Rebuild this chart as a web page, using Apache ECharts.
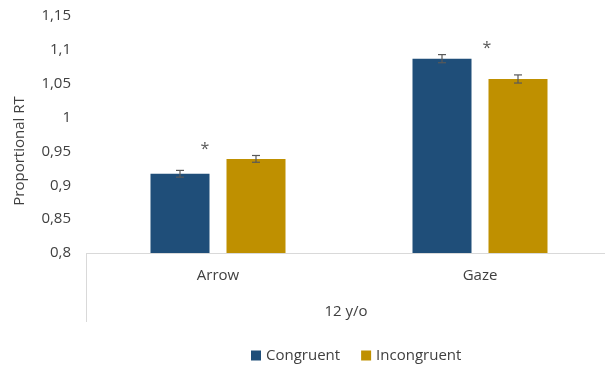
<!DOCTYPE html>
<html>
<head>
<meta charset="utf-8">
<script src="https://cdn.jsdelivr.net/npm/echarts@6/dist/echarts.min.js"></script>
<style>
  html, body { margin: 0; padding: 0; background: #fff; overflow: hidden; }
  /* plot area runs slightly past the right edge of the window */
  #chart { width: 611px; height: 368px; }
</style>
</head>
<body>
<div id="chart"></div>
<script>
// Data
const categories = ['Arrow', 'Gaze'];
const groupLabel = '12 y/o';
const congruent = [0.917, 1.087];
const incongruent = [0.939, 1.057];
const congruentErr = [0.005, 0.006];
const incongruentErr = [0.005, 0.006];
// significance marks per category: 1 = starred
const significant = [1, 1];
const yTicks = [0.8, 0.85, 0.9, 0.95, 1, 1.05, 1.1, 1.15];

// Styling
const BLUE = '#1F4E79';
const GOLD = '#BF9000';
const TEXT = '#404040';
const AXIS = '#D9D9D9';
const FONT = '"Open Sans", "Noto Sans", sans-serif';
const BAR_W = 59;
const BAR_GAP = 17;

const chart = echarts.init(document.getElementById('chart'));

function fmt(v) {
  return String(Math.round(v * 100) / 100).replace('.', ',');
}

function errorSeries(name, values, errs, side) {
  return {
    type: 'custom',
    name: name + ' error',
    z: 5,
    silent: true,
    data: values.map((v, i) => [i, v, errs[i]]),
    renderItem: function (params, api) {
      const i = api.value(0), v = api.value(1), e = api.value(2);
      const off = side * (BAR_W + BAR_GAP) / 2;
      const top = api.coord([i, v + e]);
      const bot = api.coord([i, v - e]);
      const x = top[0] + off;
      const cap = 4;
      const st = { stroke: '#595959', lineWidth: 1.2 };
      return {
        type: 'group',
        children: [
          { type: 'line', shape: { x1: x, y1: top[1], x2: x, y2: bot[1] }, style: st },
          { type: 'line', shape: { x1: x - cap, y1: top[1], x2: x + cap, y2: top[1] }, style: st },
          { type: 'line', shape: { x1: x - cap, y1: bot[1], x2: x + cap, y2: bot[1] }, style: st }
        ]
      };
    }
  };
}

// Asterisks sit just above the taller error bar of each pair
const starOffsets = [-13, 7];
const starSeries = {
  type: 'custom',
  name: 'significance',
  z: 6,
  silent: true,
  data: categories.map((c, i) => [i,
    Math.max(congruent[i] + congruentErr[i], incongruent[i] + incongruentErr[i]), significant[i]]),
  renderItem: function (params, api) {
    if (!api.value(2)) return null;
    const i = api.value(0);
    const p = api.coord([i, api.value(1)]);
    return {
      type: 'text',
      style: {
        text: '*', x: p[0] + starOffsets[i], y: p[1] + 2,
        fill: '#595959', font: '16px ' + FONT,
        align: 'center', verticalAlign: 'bottom'
      }
    };
  }
};

chart.setOption({
  backgroundColor: '#fff',
  animation: false,
  textStyle: { fontFamily: FONT, color: TEXT },
  grid: { left: 87, top: 16, right: 0, height: 237 },
  legend: {
    top: 343,
    left: 246,
    itemWidth: 10,
    itemHeight: 10,
    itemGap: 21,
    icon: 'rect',
    textStyle: { fontFamily: FONT, fontSize: 15, color: TEXT },
    data: ['Congruent', 'Incongruent']
  },
  xAxis: {
    type: 'category',
    data: categories,
    axisLine: { lineStyle: { color: AXIS, width: 1 } },
    axisTick: { show: false },
    axisLabel: { fontSize: 15, color: TEXT, margin: 15, fontFamily: FONT }
  },
  yAxis: {
    type: 'value',
    min: yTicks[0],
    max: yTicks[yTicks.length - 1],
    interval: 0.05,
    axisLine: { show: false },
    axisTick: { show: false },
    splitLine: { show: false },
    axisLabel: { fontSize: 15, color: TEXT, margin: 16, fontFamily: FONT, formatter: fmt }
  },
  graphic: [
    { type: 'line', shape: { x1: 86.5, y1: 253, x2: 86.5, y2: 322 }, style: { stroke: AXIS, lineWidth: 1 } },
    { type: 'text', x: 346, y: 312, style: { text: groupLabel, font: '15px ' + FONT, fill: TEXT, align: 'center', verticalAlign: 'middle' } },
    { type: 'text', x: 20, y: 151, rotation: Math.PI / 2, style: { text: 'Proportional RT', font: '15px ' + FONT, fill: TEXT, align: 'center', verticalAlign: 'middle' } }
  ],
  series: [
    {
      type: 'bar', name: 'Congruent', data: congruent,
      barWidth: BAR_W, barGap: (BAR_GAP / BAR_W * 100) + '%',
      itemStyle: { color: BLUE }
    },
    {
      type: 'bar', name: 'Incongruent', data: incongruent,
      barWidth: BAR_W,
      itemStyle: { color: GOLD }
    },
    errorSeries('Congruent', congruent, congruentErr, -1),
    errorSeries('Incongruent', incongruent, incongruentErr, 1),
    starSeries
  ]
});
</script>
</body>
</html>
